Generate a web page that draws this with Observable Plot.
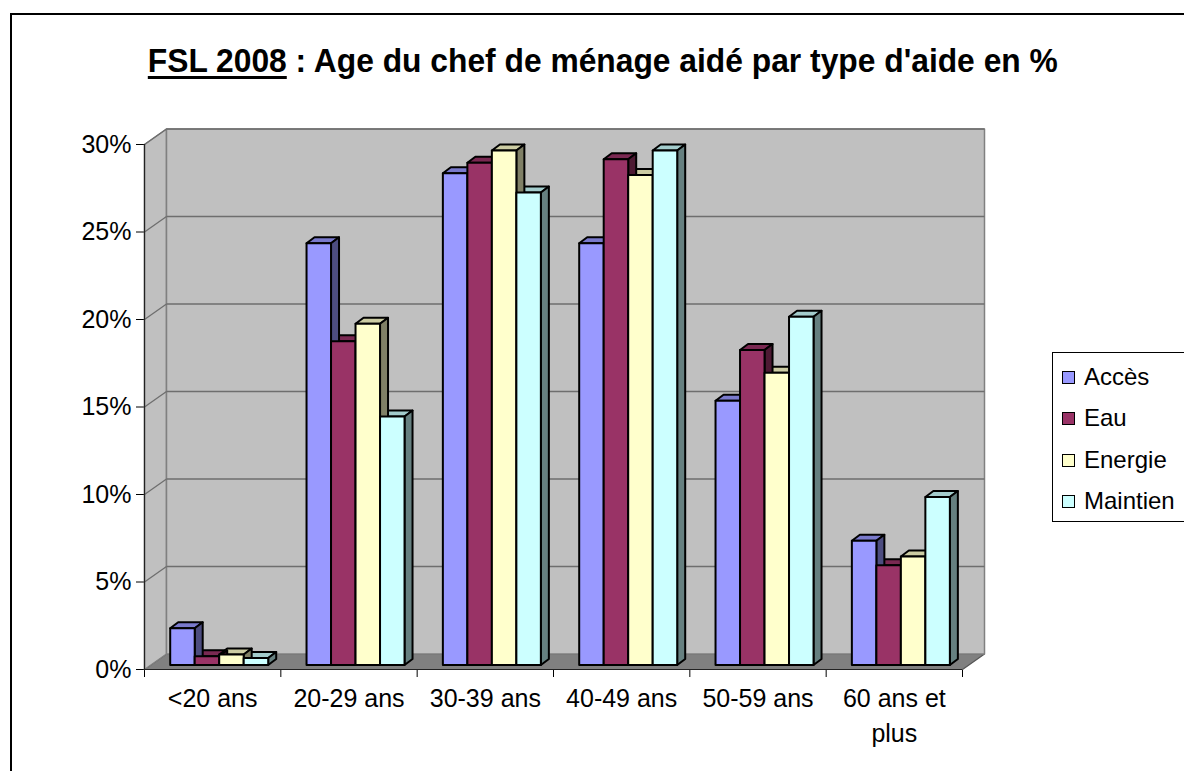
<!DOCTYPE html>
<html><head><meta charset="utf-8">
<script src="https://cdn.jsdelivr.net/npm/d3@7"></script>
<script src="https://cdn.jsdelivr.net/npm/@observablehq/plot@0.6"></script>
<style>
body{margin:0;background:#fff;font-family:"Liberation Sans",Arial,sans-serif;}
#wrap{position:relative;width:1184px;height:771px;overflow:hidden;background:#fff;}
#frame{position:absolute;left:10px;top:13px;width:1300px;height:900px;border:2px solid #000;box-sizing:border-box;}
#chart{position:absolute;left:0;top:0;}
#title{position:absolute;top:43px;left:0;width:1206px;text-align:center;font-weight:bold;font-size:34px;line-height:34px;white-space:nowrap;}
#title span{display:inline-block;transform-origin:center;}
#title u{text-decoration-thickness:3px;text-underline-offset:4px;}
#legend{position:absolute;left:1052px;top:352px;width:140px;height:170px;border:1px solid #000;box-sizing:border-box;background:#fff;}
.li{position:absolute;left:9px;font-size:24px;line-height:24px;white-space:nowrap;}
.sw{display:inline-block;width:11px;height:11px;border:1px solid #000;margin-right:9px;vertical-align:1px;}
</style></head>
<body>
<div id="wrap">
  <div id="frame"></div>
  <div id="chart"></div>
  <div id="title"><span><u>FSL 2008</u> : Age du chef de ménage aidé par type d'aide en %</span></div>
  <div id="legend"></div>
</div>
<script>
// ---- data ----
const categories = ["<20 ans", "20-29 ans", "30-39 ans", "40-49 ans", "50-59 ans", "60 ans et\nplus"];
const series = ["Accès", "Eau", "Energie", "Maintien"];
const acces    = [2.1, 24.1, 28.1, 24.1, 15.1, 7.1];
const eau      = [0.5, 18.5, 28.7, 28.9, 18.0, 5.7];
const energie  = [0.6, 19.5, 29.4, 28.0, 16.7, 6.2];
const maintien = [0.4, 14.2, 27.0, 29.4, 19.9, 9.6];
const yTicks = [0, 5, 10, 15, 20, 25, 30];
const frontColors = ["#9999ff", "#993366", "#ffffcc", "#ccffff"];
const topColors   = ["#7a7acc", "#7a2952", "#cccca3", "#a3cccc"];
const sideColors  = ["#4d4d80", "#4d1a33", "#808066", "#668080"];

// ---- layout ----
const W = 1184, H = 771;
const mL = 144, mR = 222, mT = 144, mB = 102;
const kx = (W - mL - mR) / categories.length;   // px per category
const ky = (H - mT - mB) / 30;                   // px per percent
const wallDX = 22 / kx, wallDY = 15.5 / ky;
const barOff = 25.7, barW = 24.5, barBase = 4.5 / ky;
const depthDX = 8 / kx, depthDY = 6 / ky;
const nCat = categories.length;

const values = [acces, eau, energie, maintien];
const tops = [], sides = [], fronts = [];
values.forEach((vals, s) => {
  vals.forEach((v, g) => {
    const xl = g + (barOff + s * barW) / kx, xr = xl + barW / kx;
    const yb = barBase, yt = barBase + v;
    const id = s + "-" + g;
    [[xl, yb], [xr, yb], [xr, yt], [xl, yt]].forEach(([x, y]) => fronts.push({id, x, y, fill: frontColors[s]}));
    [[xl, yt], [xr, yt], [xr + depthDX, yt + depthDY], [xl + depthDX, yt + depthDY]].forEach(([x, y]) => tops.push({id, x, y, fill: topColors[s]}));
    [[xr, yb], [xr + depthDX, yb + depthDY], [xr + depthDX, yt + depthDY], [xr, yt]].forEach(([x, y]) => sides.push({id, x, y, fill: sideColors[s]}));
  });
});

const floor = [[0, 0], [nCat, 0], [nCat + wallDX, wallDY], [wallDX, wallDY]].map(([x, y]) => ({id: "floor", x, y}));
const leftWall = [[0, 0], [wallDX, wallDY], [wallDX, 30 + wallDY], [0, 30]].map(([x, y]) => ({id: "lw", x, y}));
const backWall = [[wallDX, wallDY], [nCat + wallDX, wallDY], [nCat + wallDX, 30 + wallDY], [wallDX, 30 + wallDY]].map(([x, y]) => ({id: "bw", x, y}));
const gridLevels = yTicks.filter(t => t > 0);

const poly = (data, extra) => Plot.line(data, Object.assign({x: "x", y: "y", z: "id", curve: "linear-closed"}, extra));

const chart = Plot.plot({
  width: W, height: H,
  marginLeft: mL, marginRight: mR, marginTop: mT, marginBottom: mB,
  style: {background: "transparent", fontFamily: "'Liberation Sans', Arial, sans-serif", fontSize: "25px", color: "#000"},
  x: {domain: [0, nCat], ticks: d3.range(0, nCat + 1), tickFormat: () => "", tickSize: 8, label: null},
  y: {domain: [0, 30], ticks: yTicks, tickFormat: d => d + "%", tickSize: 8, tickPadding: 5, label: null},
  color: {type: "identity"},
  marks: [
    poly(floor, {fill: "#808080", stroke: "#555", strokeWidth: 1.2}),
    poly(leftWall, {fill: "#c0c0c0", stroke: "#808080", strokeWidth: 1.5}),
    poly(backWall, {fill: "#c0c0c0", stroke: "#808080", strokeWidth: 1.5}),
    Plot.link(gridLevels, {x1: wallDX, x2: nCat + wallDX, y1: d => d + wallDY, y2: d => d + wallDY, stroke: "#6e6e6e", strokeWidth: 1.3}),
    Plot.link(gridLevels, {x1: 0, x2: wallDX, y1: d => d, y2: d => d + wallDY, stroke: "#6e6e6e", strokeWidth: 1.3}),
    poly(tops, {fill: "fill", stroke: "#000", strokeWidth: 2, strokeLinejoin: "round"}),
    poly(sides, {fill: "fill", stroke: "#000", strokeWidth: 2, strokeLinejoin: "round"}),
    poly(fronts, {fill: "fill", stroke: "#000", strokeWidth: 2, strokeLinejoin: "round"}),
    Plot.ruleY([0], {stroke: "#222", strokeWidth: 1.2}),
    Plot.ruleX([0], {stroke: "#222", strokeWidth: 1.2}),
    Plot.text(categories, {x: (d, i) => i + 0.5, y: 0, dy: 12, lineAnchor: "top", lineHeight: 1.42, fontSize: 25, fill: "#000"})
  ]
});
document.getElementById("chart").appendChild(chart);

// legend
const legend = document.getElementById("legend");
series.forEach((name, i) => {
  const row = document.createElement("div");
  row.className = "li";
  row.style.top = (12 + i * 41.3) + "px";
  row.innerHTML = `<span class="sw" style="background:${frontColors[i]}"></span>${name}`;
  legend.appendChild(row);
});

// title fit
const span = document.querySelector("#title span");
const s = 910 / span.getBoundingClientRect().width;
span.style.transform = `scaleX(${s})`;
</script>
</body></html>
